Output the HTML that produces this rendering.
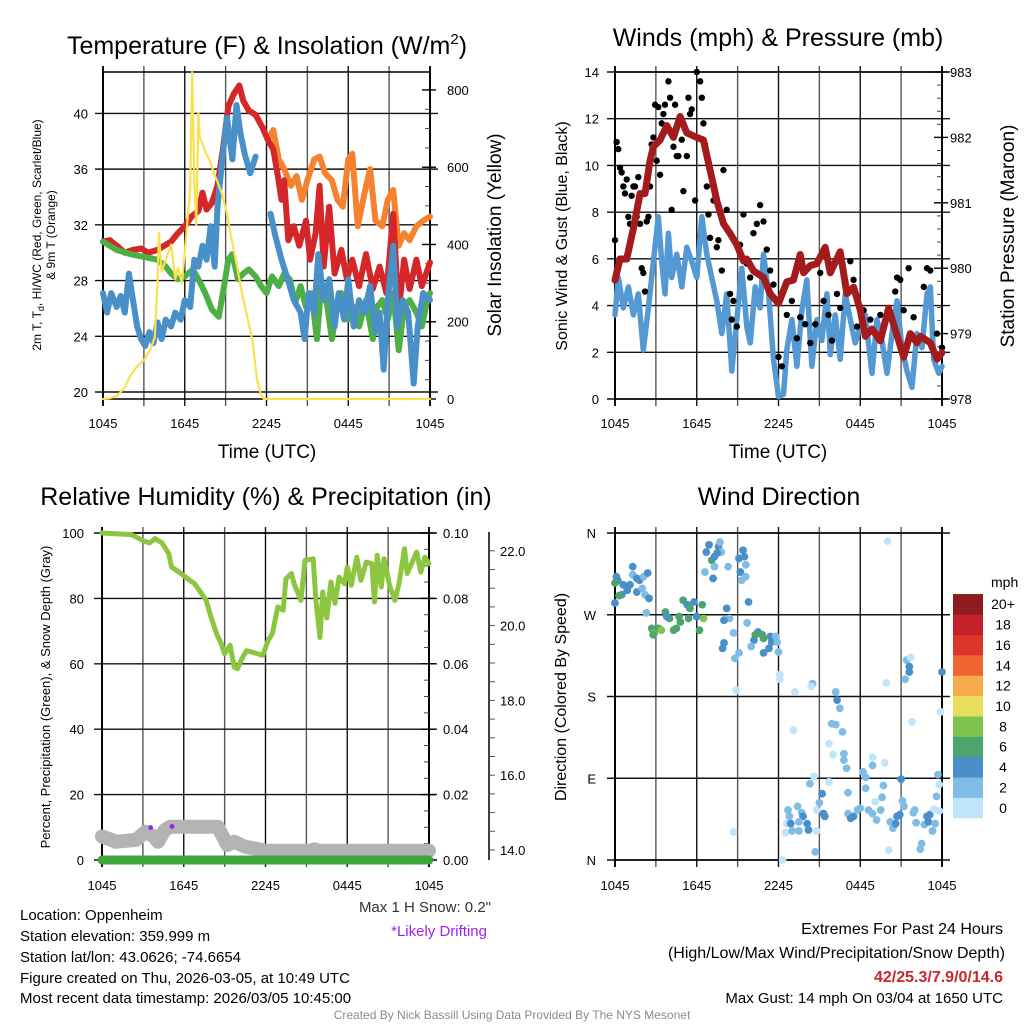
<!DOCTYPE html>
<html><head><meta charset="utf-8">
<style>
html,body{margin:0;padding:0;background:#fff;}
svg{display:block;font-family:"Liberation Sans",Arial,sans-serif;}
</style></head>
<body>
<svg id="chart" xmlns="http://www.w3.org/2000/svg" width="1024" height="1024" viewBox="0 0 1024 1024">
<rect x="0" y="0" width="1024" height="1024" fill="#fff"/>
<text x="267" y="54" font-size="25" text-anchor="middle">Temperature (F) &amp; Insolation (W/m<tspan dy="-10" font-size="15">2</tspan><tspan dy="10">)</tspan></text>
<text x="778" y="46" font-size="25" text-anchor="middle">Winds (mph) &amp; Pressure (mb)</text>
<text x="266" y="505" font-size="25" text-anchor="middle">Relative Humidity (%) &amp; Precipitation (in)</text>
<text x="779" y="505" font-size="25" text-anchor="middle">Wind Direction</text>
<text x="267" y="458" font-size="19" text-anchor="middle">Time (UTC)</text>
<text x="778" y="458" font-size="19" text-anchor="middle">Time (UTC)</text>
<text transform="translate(41,235) rotate(-90)" font-size="12" text-anchor="middle">2m T, T<tspan dy="3" font-size="9">d</tspan><tspan dy="-3">, HI/WC (Red, Green, Scarlet/Blue)</tspan></text>
<text transform="translate(55,235) rotate(-90)" font-size="12" text-anchor="middle">&amp; 9m T (Orange)</text>
<text transform="translate(501,235) rotate(-90)" font-size="19" text-anchor="middle">Solar Insolation (Yellow)</text>
<text transform="translate(567,236) rotate(-90)" font-size="16" text-anchor="middle">Sonic Wind &amp; Gust (Blue, Black)</text>
<text transform="translate(1014,236) rotate(-90)" font-size="19" text-anchor="middle">Station Pressure (Maroon)</text>
<text transform="translate(50,697) rotate(-90)" font-size="13" text-anchor="middle">Percent, Precipitation (Green), &amp; Snow Depth (Gray)</text>
<text transform="translate(566,697) rotate(-90)" font-size="16" text-anchor="middle">Direction (Colored By Speed)</text>
<g font-size="15" fill="#000">
<text x="20" y="920">Location: Oppenheim</text>
<text x="20" y="941">Station elevation: 359.999 m</text>
<text x="20" y="962">Station lat/lon: 43.0626; -74.6654</text>
<text x="20" y="983">Figure created on Thu, 2026-03-05, at 10:49 UTC</text>
<text x="20" y="1003">Most recent data timestamp: 2026/03/05 10:45:00</text>
</g>
<text x="491" y="912" font-size="15" fill="#333" text-anchor="end">Max 1 H Snow: 0.2"</text>
<text x="487" y="936" font-size="15" fill="#a020f0" text-anchor="end">*Likely Drifting</text>
<text x="1003" y="934" font-size="16" text-anchor="end">Extremes For Past 24 Hours</text>
<text x="1005" y="958" font-size="16" text-anchor="end">(High/Low/Max Wind/Precipitation/Snow Depth)</text>
<text x="1003" y="982" font-size="16" font-weight="bold" fill="#c8282d" text-anchor="end">42/25.3/7.9/0/14.6</text>
<text x="1003" y="1003" font-size="15" text-anchor="end">Max Gust: 14 mph On 03/04 at 1650 UTC</text>
<text x="512" y="1019" font-size="12" fill="#8a8a8a" text-anchor="middle">Created By Nick Bassill Using Data Provided By The NYS Mesonet</text>
</svg>
<script>
const tempHours=[0,0.5,1,1.6,2.2,2.8,3.3,4,4.5,5,5.5,6,6.5,7,7.3,7.6,8,8.4,8.8,9.2,9.6,10,10.3,10.7,11.2,11.7,12.1,12.5,12.8,13.1,13.3,13.6,14,14.4,14.9,15.2,15.6,15.9,16.2,16.6,17,17.5,17.9,18.3,18.8,19.3,19.8,20.3,20.8,21.3,21.7,22.1,22.5,23,23.4,24];
const tempValues=[30.8,30.9,30.5,30.0,30.2,30.3,30.0,30.2,30.5,30.8,31.4,31.9,32.6,33.0,34.3,33.1,33.6,34.8,37.4,40.5,41.4,42.0,40.9,40.2,39.9,39.0,38.1,37.4,35.7,33.8,35.2,30.9,31.9,30.5,32.3,29.5,31.4,34.8,29.0,33.3,28.5,30.2,28.1,29.5,27.6,29.9,27.4,29.0,27.1,32.8,25.7,29.5,27.4,29.5,27.6,29.3];
const t9Hours=[0,0.5,1,1.6,2.2,2.8,3.3,4,4.5,5,5.5,6,6.5,7,7.3,7.6,8,8.4,8.8,9.2,9.6,10,10.3,10.7,11.2,11.7,12.1,12.5,12.9,13.3,13.8,14.2,14.6,15,15.5,15.9,16.3,16.8,17.2,17.6,18,18.3,18.7,19.2,19.6,20,20.5,20.9,21.3,21.7,22.1,22.5,23,23.5,24];
const t9Values=[30.8,30.9,30.5,30.0,30.2,30.3,30.0,30.2,30.5,30.8,31.4,31.9,32.6,33.0,34.3,33.1,33.6,34.8,37.4,40.5,41.4,42.0,40.9,40.2,39.9,39.0,38.1,38.8,36.7,36.0,34.8,35.5,33.8,35.2,36.7,36.9,35.7,35.2,33.8,33.3,36.7,37.1,31.9,34.3,36.0,32.3,31.9,33.8,34.5,30.5,31.4,30.9,31.9,32.3,32.6];
const dewHours=[0,1,2,3,4,4.6,5,5.5,6,6.6,7,7.5,8,8.5,8.8,9.2,9.5,9.9,10.3,10.7,11.2,11.6,12,12.4,12.9,13.3,13.7,14.1,14.5,14.9,15.3,15.7,16,16.4,16.8,17.1,17.5,18,18.4,18.8,19.3,19.8,20.1,20.5,20.9,21.3,21.7,22.1,22.5,23,23.4,23.8,24];
const dewValues=[30.8,30.2,29.9,29.7,29.5,29.0,28.5,28.1,28.3,28.8,28.1,27.1,25.9,25.4,27.1,29.5,29.9,28.1,28.5,28.8,28.3,27.6,27.1,28.3,27.6,28.5,28.1,26.4,27.6,26.1,27.1,23.8,27.4,26.6,23.8,25.7,27.1,25.2,26.1,24.7,26.6,23.8,26.1,26.6,25.2,27.1,23.0,26.1,26.6,25.7,24.7,26.6,27.1];
const hiHours=[0,0.3,0.6,1,1.3,1.6,1.9,2.2,2.5,2.8,3.1,3.4,3.7,4,4.3,4.6,5,5.3,5.7,6,6.4,6.7,7,7.3,7.6,7.9,8.2,8.4,8.8,9.1,9.5,9.8,10.1,10.4,10.8,11.2,11.7,12.3,12.6,13.1,13.5,14,14.5,14.8,15.1,15.5,15.8,16.2,16.6,17,17.3,17.7,18,18.4,18.8,19.2,19.6,20,20.3,20.6,20.9,21.3,21.6,22,22.4,22.8,23.1,23.5,24];
const hiValues=[27.1,25.7,27.1,26.1,26.9,25.7,28.5,26.6,24.7,23.8,23.3,24.3,23.5,25.0,23.8,25.2,24.7,25.7,25.2,26.6,26.1,29.5,29.0,30.5,29.5,31.9,29.0,33.3,37.1,39.7,36.7,40.6,38.5,37.1,35.7,36.9,null,32.8,31.4,29.5,28.3,26.6,25.7,23.8,27.1,25.7,29.9,26.6,28.1,24.7,27.1,25.2,28.1,24.7,26.6,25.7,27.6,24.3,25.7,21.6,26.6,30.5,24.7,26.6,25.7,20.6,24.7,27.1,26.6];
const solarHours=[0,0.5,1,1.5,2,2.5,3,3.5,3.8,4,4.1,4.3,4.6,5,5.3,5.5,5.8,6.1,6.4,6.55,6.7,6.85,7.0,7.1,7.5,7.8,8.2,8.7,9.1,9.4,9.8,10.2,10.6,11.0,11.3,11.6,11.8,24];
const solarValues=[0,2,8,25,60,85,100,130,160,300,430,330,360,400,310,340,300,420,545,846,560,450,740,680,640,620,580,535,480,420,350,275,210,145,50,10,0,0];
const tempTicks=[20,24,28,32,36,40];
const solarTicks=[0,200,400,600,800];
const timeTickLabels=["1045","1645","2245","0445","1045"];
const pressHours=[0,0.37,0.86,1.35,1.84,2.2,2.57,2.82,3.31,3.8,4.29,4.78,5.27,6.0,6.49,6.98,7.47,7.96,8.45,8.94,9.43,9.67,10.16,10.9,11.39,12.0,12.61,13.1,13.59,13.84,14.33,14.82,15.43,15.8,16.53,17.02,17.51,18.0,18.37,18.86,19.47,20.08,20.45,21.19,21.67,22.16,22.41,23.14,23.63,24];
const pressValues=[979.82,980.14,980.14,980.61,981.14,981.14,981.64,981.86,981.96,982.18,982.0,982.32,982.07,982.0,981.96,981.5,981.03,980.68,980.53,980.36,980.11,980.14,979.96,979.86,979.61,979.46,979.79,979.82,980.21,979.93,980.04,980.07,980.32,979.93,980.25,979.61,979.71,979.36,978.96,979.07,978.89,979.39,979.14,978.64,979.0,978.86,978.96,978.86,978.61,978.71];
const windHours=[0,0.24,0.61,0.98,1.35,1.71,2.08,2.45,2.82,3.18,3.43,3.67,3.92,4.16,4.53,4.9,5.27,5.63,6.0,6.37,6.74,7.1,7.47,7.84,8.2,8.57,8.94,9.31,9.67,9.92,10.29,10.65,10.9,11.27,11.63,12.0,12.37,12.61,12.98,13.35,13.72,14.08,14.45,14.82,15.18,15.55,15.8,16.16,16.53,16.9,17.27,17.63,18.0,18.37,18.86,19.23,19.59,19.96,20.33,20.7,21.06,21.43,21.8,22.16,22.53,22.9,23.14,23.39,23.76,24];
const windValues=[3.6,5.2,3.9,4.8,3.6,4.5,2.1,3.9,5.9,7.8,5.9,4.5,7.1,5.2,6.2,4.8,6.5,5.9,5.2,7.8,6.2,5.2,4.2,2.8,4.5,1.2,3.4,5.6,3.1,2.4,4.8,3.9,6.2,4.5,1.7,0.1,0.2,2.1,3.4,1.4,3.8,5.1,1.4,3.4,2.5,4.5,1.9,3.6,1.7,4.5,3.4,2.4,3.1,3.6,1.1,3.4,2.5,1.1,2.8,4.2,2.2,1.2,0.5,2.8,2.2,4.5,4.8,1.7,1.1,1.4];
const gustHours=[0,0.12,0.24,0.37,0.49,0.61,0.73,0.86,0.98,1.1,1.22,1.35,1.47,1.59,1.71,1.84,1.96,2.08,2.2,2.33,2.45,2.57,2.69,2.82,2.94,3.06,3.18,3.31,3.43,3.55,3.67,3.92,4.04,4.16,4.29,4.41,4.53,4.65,4.9,5.02,5.27,5.39,5.51,5.63,5.88,6.0,6.25,6.37,6.49,6.61,6.74,6.86,6.98,7.23,7.47,7.59,7.84,7.96,8.2,8.45,8.57,8.69,8.94,9.18,9.43,9.67,9.92,10.16,10.41,10.65,10.9,11.14,11.39,11.63,12.0,12.25,12.61,12.98,13.35,13.59,13.96,14.33,14.7,15.06,15.31,15.67,15.92,16.29,16.53,17.27,17.51,17.76,18.25,18.74,19.47,20.21,20.57,20.7,20.94,21.19,21.55,21.92,22.66,22.9,23.14,23.63,24];
const gustValues=[6.8,11.0,10.7,9.9,9.7,9.1,8.8,9.4,7.8,7.5,8.7,9.1,9.1,7.8,9.5,7.5,5.6,5.4,4.6,7.6,7.8,9.1,10.9,11.2,12.6,10.2,12.5,9.6,11.8,12.2,12.6,13.6,12.9,8.1,10.8,12.6,10.4,10.4,11.1,8.9,10.4,12.9,12.2,12.4,8.5,14.0,13.6,12.9,11.8,10.9,9.1,7.9,6.9,8.5,6.5,6.8,5.5,9.8,8.1,4.5,3.4,4.2,3.1,6.6,7.9,5.8,5.2,7.1,7.5,8.3,7.6,6.4,5.5,4.9,1.8,1.4,3.6,4.2,2.6,3.5,3.2,2.4,3.2,5.4,4.2,3.6,2.5,4.5,3.9,5.9,5.1,3.1,3.8,3.4,3.6,3.6,4.6,5.2,5.1,3.8,5.6,3.5,4.8,5.6,5.5,2.8,2.2];
const windTicks=[0,2,4,6,8,10,12,14];
const pressTicks=[978,979,980,981,982,983];
const rhHours=[0,2.15,3.1,3.5,3.9,4.4,4.9,5.1,5.8,6.3,6.8,7.3,7.65,8.0,8.4,8.75,9.0,9.4,9.7,9.95,10.2,10.6,11.0,11.4,11.8,12.2,12.5,12.9,13.3,13.5,13.9,14.1,14.6,14.9,15.5,15.7,16.0,16.2,16.5,16.8,17.1,17.4,17.8,18.0,18.3,18.7,19.0,19.4,19.8,20.0,20.2,20.5,20.7,21.1,21.5,21.8,22.2,22.4,23.1,23.4,23.7,24];
const rhValues=[100,99.5,97.5,97,98.3,97,93.7,89.6,87.6,86,84.5,81.5,79.4,74.3,69.2,66.2,63.1,65.7,59,58.5,61,64,63.6,63.1,62.6,67.2,69.2,77.4,76.4,86,87.6,84.5,79.4,91.6,92.1,79.4,68,82,74,85,78.5,86.5,84.5,89.6,84,92.6,85.5,91.1,90.6,78.9,93.2,83.5,92.1,84,79.4,84.5,95.2,87.6,94.2,88,92.6,90.6];
const snowHours=[0,0.7,1,2.5,3.2,3.8,4.1,4.6,5,8.5,9.2,9.7,10.5,11.2,12,15.3,15.6,15.9,24];
const snowValues=[14.36,14.27,14.22,14.27,14.49,14.36,14.22,14.53,14.62,14.62,14.13,14.22,14.09,14.04,13.98,13.98,14.02,13.98,13.98];
const driftHours=[3.57,5.14];
const driftValues=[14.6,14.63];
const precipHours=[0,24];
const precipValues=[0,0];
const rhTicks=[0,20,40,60,80,100];
const precipTicks=["0.00","0.02","0.04","0.06","0.08","0.10"];
const snowTicks=[14,16,18,20,22];
const dirHours=[0.1,0.2,0,0.6,0.9,1.1,1.3,1.3,1.6,1.8,2.1,2.4,0.5,0.3,0,1.6,2.0,2.2,2.5,2.3,
2.7,2.9,3.2,3.4,3.7,4.0,4.3,4.5,4.7,5.0,5.3,5.5,5.8,6.0,5.4,6.4,6.5,6.2,4.8,3.8,2.8,
6.9,6.7,7.1,7.3,7.6,7.7,7.8,7.5,7.2,6.6,7.3,8.3,9.1,9.4,9.5,9.6,9.2,9.3,9.6,
9.8,8.2,8.4,8.0,8.7,8.0,7.9,9.1,8.8,9.7,10.2,10.5,10.8,10.9,10.3,11.4,11.5,11.8,11.9,11.3,10.9,10.0,12.0,8.9,
12.1,12.1,13.2,14.5,14.4,13.1,16.2,16.3,16.5,15.9,16.2,16.7,15.7,16.0,16.8,16.8,17.0,19.9,20.0,21.4,21.7,21.6,21.6,21.3,24.0,23.9,21.8,
12.7,12.8,12.6,12.9,12.5,13.0,13.4,13.7,13.8,14.1,14.2,13.5,13.5,14.6,14.3,15.2,15.0,14.8,15.3,15.4,14.8,14.7,15.7,17.1,17.1,17.3,17.5,17.8,18.0,18.2,18.4,18.4,18.6,18.9,18.9,18.9,19.1,19.2,19.5,19.6,19.7,19.8,20.2,20.4,20.6,20.7,20.9,21.0,21.1,21.2,20.1,22.0,21.9,22.1,22.5,22.4,22.7,22.9,23.0,23.1,23.3,23.5,23.4,23.6,23.8,23.7,23.8,12.3,8.7];
const dirDegrees=[312,308,305,303,297,303,323,314,310,308,312,316,292,291,283,295,299,292,288,272,
255,250,255,253,273,266,253,255,268,286,281,277,284,268,266,281,266,253,262,268,248,
347,339,330,334,345,350,339,338,310,317,323,323,332,341,334,325,317,308,312,
284,277,266,264,250,239,233,228,222,261,242,251,248,244,248,246,240,246,240,233,228,235,229,187,
204,199,185,194,191,143,185,176,167,150,149,141,128,116,117,110,101,195,351,220,223,213,207,199,207,163,152,
55,48,40,40,30,32,59,52,48,40,33,32,42,92,84,73,63,55,51,48,32,9,86,74,51,46,48,55,57,97,91,79,55,51,113,104,64,44,55,69,82,107,42,35,40,48,50,89,65,59,11,55,52,41,18,12,39,48,42,50,32,40,56,70,83,94,54,0,31];
const dirSpeeds=[5,5,7,5,5,5,5,3,5,5,3,5,5,7,5,5,3,3,5,3,
7,8,7,8,7,7,7,7,7,7,5,7,5,5,7,7,8,7,7,5,7,
5,5,7,5,5,3,3,5,5,3,3,3,5,5,5,3,5,3,3,
5,5,3,5,3,5,5,3,3,3,5,5,7,7,7,5,5,3,3,5,5,3,3,1,
1,1,1,3,1,1,3,5,3,3,3,3,1,1,3,3,3,1,1,3,1,5,5,3,5,1,1,
3,3,1,5,1,3,3,3,5,5,5,3,3,1,3,5,3,1,5,5,1,3,1,3,3,5,5,3,3,3,3,3,3,3,1,3,1,3,3,3,3,1,3,3,5,5,5,5,3,3,1,3,3,3,3,3,3,5,5,5,3,3,1,3,1,3,1,1,1];
const speedBins=[0,2,4,6,8,10,12,14,16,18,20];
const speedLabels=["0","2","4","6","8","10","12","14","16","18","20+"];
const speedColors=["#bfe6f8","#80bde6","#4a8fc7","#4ba56d","#80c34e","#e8e05c","#f5aa4b","#ef6531","#dc3428","#c32127","#8f1b1e"];
const dirTicks=[0,90,180,270,360];
const dirLabels=["N","E","S","W","N"];

const NS="http://www.w3.org/2000/svg";
const svg=document.getElementById('chart');
const P1={x0:103,x1:430,y0:72,y1:399};
const P2={x0:615,x1:942,y0:72,y1:399};
const P3={x0:102,x1:429,y0:533,y1:860};
const P4={x0:615,x1:942,y0:533,y1:860};
const xs=(P,h)=>P.x0+h/24*(P.x1-P.x0);
const yT=v=>392-(v-20)*13.93;
const yS=v=>399-v*0.3863;
const yW=v=>399-v*23.357;
const yP=p=>399-(p-978)*65.4;
const yRH=v=>860-v*3.27;
const yPr=v=>860-v*3270;
const ySn=s=>850-(s-14)*37.4;
const yD=d=>860-d/360*327;

function el(tag,parent){const e=document.createElementNS(NS,tag);(parent||svg).appendChild(e);return e;}
function pathD(P,hours,vals,yf){let d='',pen=false;for(let i=0;i<hours.length;i++){const v=vals[i];if(v===null||v===undefined){pen=false;continue;}d+=(pen?'L':'M')+xs(P,hours[i]).toFixed(1)+' '+yf(v).toFixed(1);pen=true;}return d;}

function frame(P,name,yTickVals,yf,yLabels,lx,xLabelY){
  const g=el('g');
  
  
  for(let h=0;h<=24;h+=3){
    const l=el('line',g);
    
    
    const x=xs(P,h);
    l.setAttribute('x1',x);l.setAttribute('x2',x);l.setAttribute('y1',P.y0-6);l.setAttribute('y2',P.y1+7);
    l.setAttribute('stroke',(h%6===0)?'#111':'#555');l.setAttribute('stroke-width',(h===0||h===24)?2:1.4);
  }
  for(let i=0;i<5;i++){
    const t=el('text',g);
    
    
    t.setAttribute('x',xs(P,i*6));t.setAttribute('y',xLabelY);t.setAttribute('font-size','13');t.setAttribute('text-anchor','middle');
    t.textContent=timeTickLabels[i];
  }
  yTickVals.forEach((v,i)=>{
    const y=yf(v);
    const l=el('line',g);
    
    
    l.setAttribute('x1',P.x0-8);l.setAttribute('x2',P.x1+8);l.setAttribute('y1',y);l.setAttribute('y2',y);
    l.setAttribute('stroke','#111');l.setAttribute('stroke-width',1.4);
    const t=el('text',g);
    
    
    t.setAttribute('x',lx);t.setAttribute('y',y+5);t.setAttribute('font-size','13');t.setAttribute('text-anchor','end');
    t.textContent=yLabels[i];
  });
  const r=el('rect',g);
  
  
  r.setAttribute('x',P.x0);r.setAttribute('y',P.y0);r.setAttribute('width',P.x1-P.x0);r.setAttribute('height',P.y1-P.y0);
  r.setAttribute('fill','none');r.setAttribute('stroke','#000');r.setAttribute('stroke-width',1.5);
  return g;
}
function rightAxis(P,name,vals,yf,labels,lx,minorStep,minorFrom,minorTo){
  const g=el('g');
  
  
  for(let v=minorFrom;v<=minorTo+1e-9;v+=minorStep){
    const y=yf(v);
    if(y<P.y0-0.5||y>P.y1+0.5) continue;
    const l=el('line',g);
    
    
    l.setAttribute('x1',P.x1-5);l.setAttribute('x2',P.x1);l.setAttribute('y1',y);l.setAttribute('y2',y);l.setAttribute('stroke','#444');l.setAttribute('stroke-width',1);
  }
  vals.forEach((v,i)=>{
    const y=yf(v);
    const l=el('line',g);
    
    
    l.setAttribute('x1',P.x1-8);l.setAttribute('x2',P.x1+6);l.setAttribute('y1',y);l.setAttribute('y2',y);l.setAttribute('stroke','#000');l.setAttribute('stroke-width',1.4);
    const t=el('text',g);
    
    
    t.setAttribute('x',lx);t.setAttribute('y',y+5);t.setAttribute('font-size','13');
    t.textContent=labels[i];
  });
}
function line(P,name,hours,vals,yf,color,w,op){
  const p=el('path');
  
  
  p.setAttribute('d',pathD(P,hours,vals,yf));
  p.setAttribute('fill','none');p.setAttribute('stroke',color);p.setAttribute('stroke-width',w);
  p.setAttribute('stroke-linejoin','round');p.setAttribute('stroke-linecap','round');
  if(op) p.setAttribute('stroke-opacity',op);
  return p;
}

frame(P1,'temp-panel',tempTicks,yT,tempTicks.map(String),88,428);
rightAxis(P1,'solar-axis',solarTicks,yS,solarTicks.map(String),447,50,0,850);
line(P1,'nine-meter-temp-line',t9Hours,t9Values,yT,'#f5822f',6);
line(P1,'temperature-line',tempHours,tempValues,yT,'#d5262a',6);
line(P1,'dewpoint-line',dewHours,dewValues,yT,'#4daf44',6);
line(P1,'heat-index-windchill-line',hiHours,hiValues,yT,'#4a90c8',6);
line(P1,'solar-insolation-line',solarHours,solarValues,yS,'#fbe04e',2.2);

frame(P2,'wind-panel',windTicks,yW,windTicks.map(String),599,428);
rightAxis(P2,'pressure-axis',pressTicks,yP,pressTicks.map(String),950,0.2,978,983);
line(P2,'sonic-wind-line',windHours,windValues,yW,'#5499d3',5.5);
gustHours.forEach((h,i)=>{
  const c=el('circle');
  
  
  c.setAttribute('cx',xs(P2,h));c.setAttribute('cy',yW(gustValues[i]));c.setAttribute('r',3.2);c.setAttribute('fill','#000');
});
line(P2,'pressure-line',pressHours,pressValues,yP,'#a31b1d',7);

frame(P3,'humidity-panel',rhTicks,yRH,rhTicks.map(String),84,890);
rightAxis(P3,'precip-axis',[0,0.02,0.04,0.06,0.08,0.1],yPr,precipTicks,443,0.005,0,0.1);
(function(){
  const g=el('g');
  
  
  const a=el('line',g);
  
  
  a.setAttribute('x1',489);a.setAttribute('x2',489);a.setAttribute('y1',532);a.setAttribute('y2',860);a.setAttribute('stroke','#000');a.setAttribute('stroke-width',1.5);
  for(let s=13.5;s<=22.5;s+=0.5){
    const y=ySn(s);if(y<533||y>860)continue;
    const m=el('line',g);
    
    
    m.setAttribute('x1',489);m.setAttribute('x2',495);m.setAttribute('y1',y);m.setAttribute('y2',y);m.setAttribute('stroke','#555');
  }
  snowTicks.forEach(s=>{
    const t=el('text',g);
    
    
    t.setAttribute('x',500);t.setAttribute('y',ySn(s)+5);t.setAttribute('font-size','13');
    t.textContent=s.toFixed(1);
  });
})();
line(P3,'relative-humidity-line',rhHours,rhValues,yRH,'#8cc640',5);
line(P3,'snow-depth-line',snowHours,snowValues,ySn,'#b3b3b3',14);
line(P3,'precipitation-line',precipHours,precipValues,yPr,'#3ea63a',9);
driftHours.forEach((h,i)=>{
  const c=el('circle');
  
  
  c.setAttribute('cx',xs(P3,h));c.setAttribute('cy',ySn(driftValues[i]));c.setAttribute('r',2.4);c.setAttribute('fill','#a020f0');
});

frame(P4,'direction-panel',dirTicks,yD,dirLabels,596,890);
function colorFor(s){let k=0;for(let i=0;i<speedBins.length;i++){if(s>=speedBins[i])k=i;}return speedColors[k];}
dirHours.forEach((h,i)=>{
  const c=el('circle');
  
  
  c.setAttribute('cx',xs(P4,h));c.setAttribute('cy',yD(dirDegrees[i]));c.setAttribute('r',3.9);c.setAttribute('fill',colorFor(dirSpeeds[i]));
});
(function(){
  const g=el('g');
  
  
  const top=594,bot=818,h=(bot-top)/speedColors.length;
  speedColors.forEach((c,i)=>{
    const r=el('rect',g);
    
    
    const y=bot-(i+1)*h;
    r.setAttribute('x',953);r.setAttribute('y',y);r.setAttribute('width',30);r.setAttribute('height',h+0.3);r.setAttribute('fill',c);
    const t=el('text',g);
    
    
    t.setAttribute('x',1003);t.setAttribute('y',y+h/2+5);t.setAttribute('font-size','14');t.setAttribute('text-anchor','middle');
    t.textContent=speedLabels[i];
  });
  const u=el('text',g);
  
  
  u.setAttribute('x',991);u.setAttribute('y',587);u.setAttribute('font-size','14');
  u.textContent='mph';
})();
</script>
</body></html>
